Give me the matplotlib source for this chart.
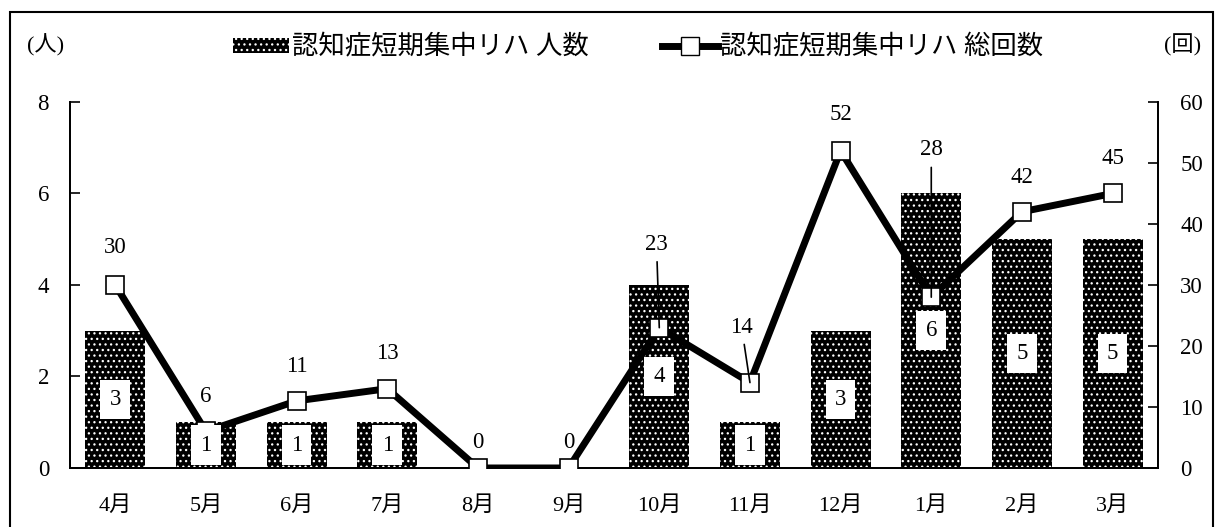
import matplotlib
matplotlib.use('Agg')
import matplotlib.pyplot as plt
from matplotlib.patches import Rectangle, Patch
from matplotlib.lines import Line2D
import numpy as np

plt.rcParams['font.family'] = ['Liberation Serif', 'Noto Sans CJK JP']
plt.rcParams['hatch.linewidth'] = 0.9

#Données
months = ['4月', '5月', '6月', '7月', '8月', '9月', '10月', '11月', '12月', '1月', '2月', '3月']
people = [3, 1, 1, 1, 0, 0, 4, 1, 3, 6, 5, 5]
sessions = [30, 6, 11, 13, 0, 0, 23, 14, 52, 28, 42, 45]
bar_name = '認知症短期集中リハ 人数'
line_name = '認知症短期集中リハ 総回数'

fig = plt.figure(figsize=(12.23, 5.27), dpi=100)
ax = fig.add_axes([0.0572, 0.112, 0.8896, 0.6945])
ax2 = ax.twinx()

x = np.arange(len(months))
fs = 16.5

#Barres (人数)
ax.bar(x, people, width=0.66, color='black', edgecolor='white', hatch='...', linewidth=0)

ax.set_xlim(-0.5, len(months) - 0.5)
ax.set_ylim(0, 8)
ax.set_yticks([0, 2, 4, 6, 8])
ax.set_xticks(x)
ax.set_xticklabels(months, fontsize=16)
ax.tick_params(axis='x', length=0, pad=20)
ax.tick_params(axis='y', direction='in', length=7, width=1.2, labelsize=fs, pad=15)

#Courbe (総回数)
ax2.plot(x, sessions, color='black', lw=5, marker='s', ms=13, mfc='white', mec='black', mew=1.2, zorder=3)
ax2.set_ylim(0, 60)
ax2.set_yticks(range(0, 61, 10))
ax2.tick_params(axis='y', direction='in', length=7, width=1.2, labelsize=fs, pad=16)

#Etiquettes des barres, au-dessus de la courbe
for xi, v in zip(x, people):
    if v > 0:
        ax2.text(xi, v / 2, str(v), ha='center', va='center', fontsize=fs, transform=ax.transData,
                 zorder=5, bbox=dict(boxstyle='square,pad=0.4', fc='white', ec='none'))

#Etiquettes de la courbe (décalages en points)
offsets = {0: (0, 27), 4: (0, 18), 5: (0, 18), 6: (-2, 60), 7: (-6, 40), 8: (0, 26), 9: (0, 106)}
leader = [6, 7, 9]
for xi, v in zip(x, sessions):
    dx, dy = offsets.get(xi, (0, 25))
    if xi in leader:
        ax2.annotate(str(v), (xi, v), xytext=(dx, dy), textcoords='offset points',
                     ha='center', va='center', fontsize=fs,
                     arrowprops=dict(arrowstyle='-', color='black', lw=1.2, shrinkA=3, shrinkB=0),
                     zorder=4)
    else:
        ax2.annotate(str(v), (xi, v), xytext=(dx, dy), textcoords='offset points',
                     ha='center', va='center', fontsize=fs)

for a in (ax, ax2):
    a.spines['top'].set_visible(False)
    for s in ('left', 'right', 'bottom'):
        a.spines[s].set_linewidth(1.3)

fig.text(46 / 1223, 1 - 45 / 527, '(人)', ha='center', va='center', fontsize=16)
fig.text(1183 / 1223, 1 - 45 / 527, '(回)', ha='center', va='center', fontsize=16)

handles = [Patch(facecolor='black', edgecolor='white', hatch='...', linewidth=0),
           Line2D([], [], color='black', lw=5, marker='s', ms=13, mfc='white', mec='black')]
fig.legend(handles, [bar_name, line_name], loc='center', bbox_to_anchor=(0.522, 1 - 47 / 527),
           ncol=2, frameon=False, fontsize=19, handlelength=2.1, handleheight=0.5,
           columnspacing=2.8, handletextpad=0.1)

#Cadre
fig.patches.append(Rectangle((10 / 1223, -0.1), 1203 / 1223, 1.1 - 12 / 527, transform=fig.transFigure,
                             fill=False, ec='black', lw=1.5))

fig.savefig('out.png', dpi=100)
